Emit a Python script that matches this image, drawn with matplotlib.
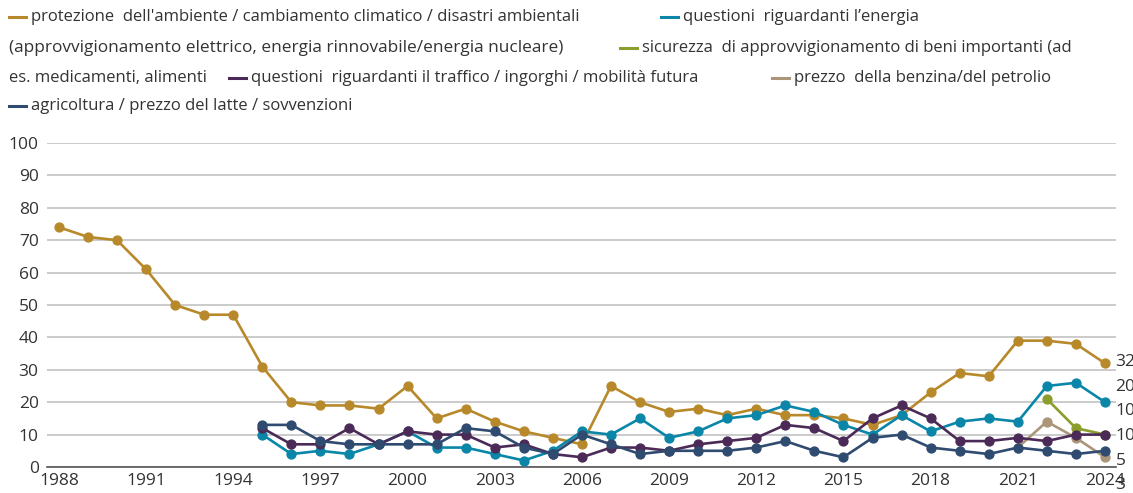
import matplotlib
matplotlib.use("Agg")
import matplotlib.pyplot as plt
from matplotlib.lines import Line2D
import numpy as np

plt.rcParams['font.family'] = ['Open Sans', 'DejaVu Sans']

# Data
years_env = list(range(1988, 2025))
env = [74, 71, 70, 61, 50, 47, 47, 31, 20, 19, 19, 18, 25, 15, 18, 14, 11, 9, 7,
       25, 20, 17, 18, 16, 18, 16, 16, 15, 13, 16, 23, 29, 28, 39, 39, 38, 32]

years_95 = list(range(1995, 2025))
energy = [10, 4, 5, 4, 7, 11, 6, 6, 4, 2, 5, 11, 10, 15, 9, 11, 15, 16, 19, 17,
          13, 10, 16, 11, 14, 15, 14, 25, 26, 20]
traffic = [12, 7, 7, 12, 7, 11, 10, 10, 6, 7, 4, 3, 6, 6, 5, 7, 8, 9, 13, 12,
           8, 15, 19, 15, 8, 8, 9, 8, 10, 10]
agri = [13, 13, 8, 7, 7, 7, 7, 12, 11, 6, 4, 10, 7, 4, 5, 5, 5, 6, 8, 5,
        3, 9, 10, 6, 5, 4, 6, 5, 4, 5]

years_supply = [2022, 2023, 2024]
supply = [21, 12, 10]

years_fuel = [2021, 2022, 2023, 2024]
fuel = [6, 14, 9, 3]

labels = [
    "protezione  dell'ambiente / cambiamento climatico / disastri ambientali",
    "questioni  riguardanti l\u2019energia",
    "sicurezza  di approvvigionamento di beni importanti (ad",
    "questioni  riguardanti il traffico / ingorghi / mobilit\u00e0 futura",
    "prezzo  della benzina/del petrolio",
    "agricoltura / prezzo del latte / sovvenzioni",
]
colors = ["#b8892b", "#0a86a8", "#8c9d2b", "#4b2a57", "#ab967a", "#2f4b70"]

xticks = list(range(1988, 2025, 3))
yticks = list(range(0, 101, 10))

W, H = 1133, 493
fig = plt.figure(figsize=(W / 100, H / 100), dpi=100)
ax = fig.add_axes([47 / W, 1 - 467 / H, (1116 - 47) / W, (467 - 143) / H])

series = [
    (years_env, env, colors[0]),
    (years_95, energy, colors[1]),
    (years_supply, supply, colors[2]),
    (years_fuel, fuel, colors[4]),
    (years_95, traffic, colors[3]),
    (years_95, agri, colors[5]),
]
for xs, ys, c in series:
    ax.plot(xs, ys, color=c, lw=1.9, marker='o', ms=6.4, clip_on=False, zorder=3)

ax.set_xlim(1987.59, 2024.38)
ax.set_ylim(0, 100)
ax.set_xticks(xticks)
ax.set_yticks(yticks)
ax.grid(axis='y', color='#c2c2c2', lw=1.2)
ax.set_axisbelow(True)
for s in ['top', 'right', 'left']:
    ax.spines[s].set_visible(False)
ax.spines['bottom'].set_color('#555555')
ax.spines['bottom'].set_linewidth(1.2)
ax.tick_params(axis='both', length=0, labelsize=12.5, colors='#333333')
ax.tick_params(axis='x', pad=4)
ax.tick_params(axis='y', pad=6)

# end-of-line value labels, spread evenly around their mean
ends = [env[-1], energy[-1], supply[-1], traffic[-1], agri[-1], fuel[-1]]
order = np.argsort(ends)[::-1]
mean = np.mean(ends)
step = 7.6
for rank, i in enumerate(order):
    ly = mean + (len(ends) / 2 - 0.5 - rank) * step
    ax.text(2024.36, ly, str(ends[i]), fontsize=12.5, color='#333333',
            va='center', ha='left', clip_on=False)

# legend laid out as flowing text rows
def fx(px):
    return px / W

def fy(py):
    return 1 - py / H

def item(x0, y, color, text):
    fig.add_artist(Line2D([fx(x0), fx(x0 + 17)], [fy(y), fy(y)], color=color, lw=2.2))
    fig.text(fx(x0 + 22), fy(y), text, fontsize=12, color='#333333', va='center')

item(9, 17, colors[0], labels[0])
item(661, 17, colors[1], labels[1])
fig.text(fx(9), fy(48), "(approvvigionamento elettrico, energia rinnovabile/energia nucleare)",
         fontsize=12.4, color='#333333', va='center')
item(620, 48, colors[2], labels[2])
fig.text(fx(9), fy(78), "es. medicamenti, alimenti", fontsize=12, color='#333333', va='center')
item(229, 78, colors[3], labels[3])
item(772, 78, colors[4], labels[4])
item(9, 106, colors[5], labels[5])

fig.savefig("out.png", dpi=100)
